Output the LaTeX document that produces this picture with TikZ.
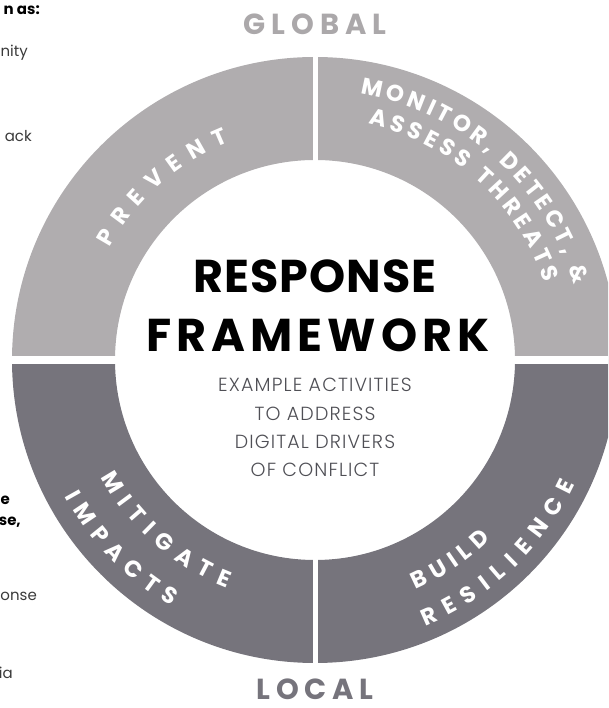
\documentclass[tikz,border=0pt]{standalone}
\usepackage{fontspec}
\usetikzlibrary{calc}
\setmainfont{Poppins}
\IfFontExistsTF{Poppins Light}{\newfontfamily\lightfam[LetterSpace=6]{Poppins Light}}{\newfontfamily\lightfam[LetterSpace=6]{Poppins}}
\newfontfamily\ringfam{Poppins}
\newcommand\ringfnt{\ringfam\bfseries\fontsize{23}{26}\selectfont}
\newfontfamily\glfam[LetterSpace=20]{Poppins}
\newfontfamily\respfam[LetterSpace=2]{Poppins}
\newfontfamily\framefam[LetterSpace=11]{Poppins}
\definecolor{lightgr}{HTML}{B0ADAF}
\definecolor{darkgr}{HTML}{76747C}
\definecolor{globalc}{HTML}{ABA8AA}
\definecolor{textgr}{HTML}{4F4F55}
\definecolor{fraggr}{HTML}{3A3A3A}
\tikzset{
  ringletter/.style={anchor=base, inner sep=0, text=white, font=\ringfnt},
  frag/.style={anchor=base east, inner sep=0, font=\fontsize{15}{18}\selectfont, text=fraggr},
  fragb/.style={frag, font=\bfseries\fontsize{15}{18}\selectfont, text=black},
  sub/.style={font=\lightfam\fontsize{19}{21}\selectfont, text=textgr, inner sep=0},
  pole/.style={font=\glfam\bfseries\fontsize{29}{31}\selectfont, inner sep=0, anchor=base}
}
\newbox\chbox
\makeatletter
% store the glyph and its width (pt, plain number) under a key
\newcommand\defletter[2]{%
  \expandafter\gdef\csname ld@#1\endcsname{#2}%
  \setbox\chbox\hbox{\ringfnt #2}%
  \expandafter\xdef\csname lw@#1\endcsname{\strip@pt\wd\chbox}}
\newcommand\letterwidth[1]{\edef\wv{\csname lw@#1\endcsname}}
\newcommand\letterglyph[1]{\csname ld@#1\endcsname}
\makeatother
% #1 baseline radius, #2 centre angle, #3 sign (1: clockwise, tops out; -1: counter-clockwise, tops in), #4 gap, #5 letter keys
\newcommand\ringword[5]{%
  \gdef\totw{0}%
  \foreach \ch in {#5}{\letterwidth{\ch}\pgfmathsetmacro\mytmp{\totw+\wv+#4}\xdef\totw{\mytmp}}%
  \pgfmathsetmacro\kdeg{180/(pi*#1)}%
  \pgfmathsetmacro\startang{#2+#3*(\totw-#4)/2*\kdeg}%
  \gdef\mycur{0}%
  \foreach \ch in {#5}{%
    \letterwidth{\ch}%
    \pgfmathsetmacro\myang{\startang-#3*(\mycur+\wv/2)*\kdeg}%
    \pgfmathsetmacro\myrot{\myang-#3*90}%
    \node[ringletter, rotate=\myrot] at ($(C)+(\myang:#1)$) {\letterglyph{\ch}};
    \pgfmathsetmacro\mytmp{\mycur+\wv+#4}\xdef\mycur{\mytmp}%
  }%
}
\begin{document}
\defletter{A}{A}\defletter{B}{B}\defletter{C}{C}\defletter{D}{D}\defletter{E}{E}%
\defletter{G}{G}\defletter{H}{H}\defletter{I}{I}\defletter{L}{L}\defletter{M}{M}%
\defletter{N}{N}\defletter{O}{O}\defletter{P}{P}\defletter{R}{R}\defletter{S}{S}%
\defletter{T}{T}\defletter{U}{U}\defletter{V}{V}\defletter{comma}{,}\defletter{space}{\ }%
\defletter{amp}{\&}%
\begin{tikzpicture}[x=1pt,y=1pt]
\clip (0,0) rectangle (608,708);
\coordinate (C) at (315,348);
% quadrants
\fill[lightgr] (C) ++(90:200) -- ++(90:103) arc[start angle=90,end angle=180,radius=303] -- ++(0:103) arc[start angle=180,end angle=90,radius=200] -- cycle;
\fill[lightgr] (C) ++(0:200) -- ++(0:103) arc[start angle=0,end angle=90,radius=303] -- ++(-90:103) arc[start angle=90,end angle=0,radius=200] -- cycle;
\fill[darkgr] (C) ++(180:200) -- ++(180:103) arc[start angle=180,end angle=270,radius=303] -- ++(90:103) arc[start angle=270,end angle=180,radius=200] -- cycle;
\fill[darkgr] (C) ++(270:200) -- ++(270:103) arc[start angle=270,end angle=360,radius=303] -- ++(180:103) arc[start angle=360,end angle=270,radius=200] -- cycle;
\draw[white, line width=5] (C) ++(0,-320) -- ++(0,640);
\draw[white, line width=8] (C) ++(-320,0) -- ++(640,0);
% ring labels
\ringword{234}{131.5}{1}{10}{P,R,E,V,E,N,T}
\ringword{270}{48.3}{1}{3.8}{M,O,N,I,T,O,R,comma,space,D,E,T,E,C,T,comma,space,amp}
\ringword{242}{48}{1}{4.2}{A,S,S,E,S,S,space,T,H,R,E,A,T,S}
\ringword{244}{228.8}{-1}{9}{M,I,T,I,G,A,T,E}
\ringword{285}{224.2}{-1}{8.4}{I,M,P,A,C,T,S}
\ringword{251}{304}{-1}{6.1}{B,U,I,L,D}
\ringword{288}{313.5}{-1}{9.5}{R,E,S,I,L,I,E,N,C,E}
% titles
\node[pole, text=globalc] (global) at (315,673) {GLOBAL};
\node[pole, text=darkgr] (local) at (315,9) {LOCAL};
\node[font=\respfam\bfseries\fontsize{46}{50}\selectfont, text=black] (resp) at (315,432) {RESPONSE};
\node[font=\framefam\bfseries\fontsize{46}{50}\selectfont, text=black] (frame) at (318,373) {FRAMEWORK};
\node[sub] (s1) at (315,323) {EXAMPLE ACTIVITIES};
\node[sub] (s2) at (315,294.5) {TO ADDRESS};
\node[sub] (s3) at (315,266) {DIGITAL DRIVERS};
\node[sub] (s4) at (315,238) {OF CONFLICT};
% cut-off text at left edge
\node[fragb] (f1) at (40,693) {n as:};
\node[frag] (f2) at (28,651) {nity};
\node[frag] (f3) at (32,566) {ack};
\node[fragb] (f4) at (10,203) {e};
\node[fragb] (f5) at (21,182) {se,};
\node[frag] (f6) at (37,107) {onse};
\node[frag] (f7) at (13,29) {ia};
\end{tikzpicture}
\end{document}
